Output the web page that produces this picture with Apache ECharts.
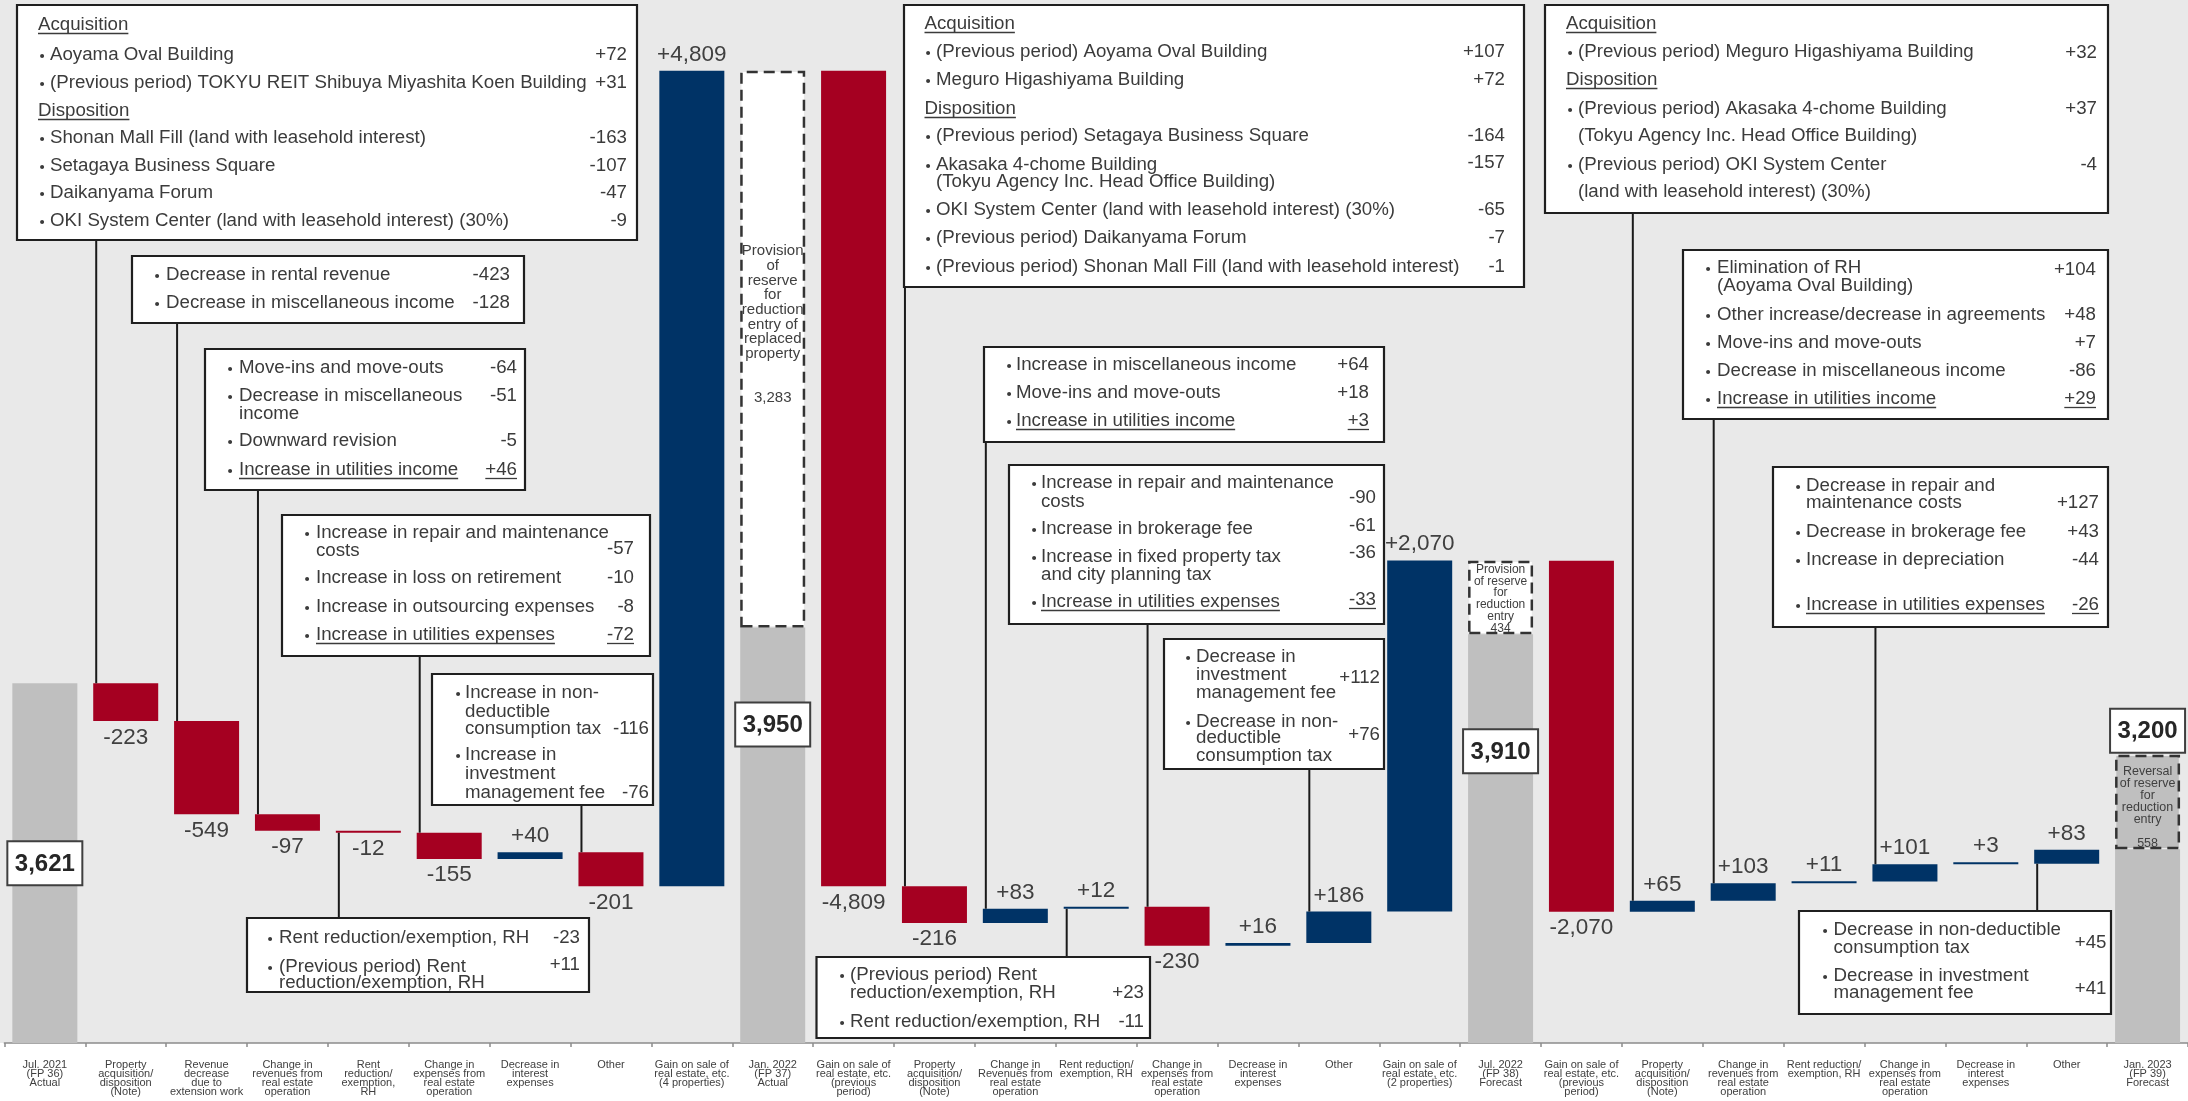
<!DOCTYPE html>
<html>
<head>
<meta charset="utf-8">
<script src="https://cdn.jsdelivr.net/npm/echarts@6/dist/echarts.min.js"></script>
<style>
html, body { margin: 0; padding: 0; background: #ffffff; }
#chart { width: 2188px; height: 1101px; }
</style>
</head>
<body>
<div id="chart"></div>
<script>
// Waterfall steps along the x axis
const categories = [
  'Jul. 2021\n(FP 36)\nActual',
  'Property\nacquisition/\ndisposition\n(Note)',
  'Revenue\ndecrease\ndue to\nextension work',
  'Change in\nrevenues from\nreal estate\noperation',
  'Rent\nreduction/\nexemption,\nRH',
  'Change in\nexpenses from\nreal estate\noperation',
  'Decrease in\ninterest\nexpenses',
  'Other',
  'Gain on sale of\nreal estate, etc.\n(4 properties)',
  'Jan. 2022\n(FP 37)\nActual',
  'Gain on sale of\nreal estate, etc.\n(previous\nperiod)',
  'Property\nacquisition/\ndisposition\n(Note)',
  'Change in\nRevenues from\nreal estate\noperation',
  'Rent reduction/\nexemption, RH',
  'Change in\nexpenses from\nreal estate\noperation',
  'Decrease in\ninterest\nexpenses',
  'Other',
  'Gain on sale of\nreal estate, etc.\n(2 properties)',
  'Jul. 2022\n(FP 38)\nForecast',
  'Gain on sale of\nreal estate, etc.\n(previous\nperiod)',
  'Property\nacquisition/\ndisposition\n(Note)',
  'Change in\nrevenues from\nreal estate\noperation',
  'Rent reduction/\nexemption, RH',
  'Change in\nexpenses from\nreal estate\noperation',
  'Decrease in\ninterest\nexpenses',
  'Other',
  'Jan. 2023\n(FP 39)\nForecast'
];

// Period totals and the signed changes between them
const steps = [3621, -223, -549, -97, -12, -155, 40, -201, 4809,
               3950, -4809, -216, 83, 12, -230, 16, 186, 2070,
               3910, -2070, 65, 103, 11, 101, 3, 83,
               3200];

// Positions of the period totals in the steps list
const totalIndex = [0, 9, 18, 26];

// Reserve for reduction entry: provisions sit above the total, the reversal sits inside it
const reserveIndex = [9, 18, 26];
const reserveValues = [3283, 434, -558];

const FONT = '"Liberation Sans", "Noto Sans CJK JP", sans-serif';
const NAVY = '#003366';
const RED = '#a50021';
const GRAY = '#bfbfbf';
const TEXT = '#3b3b3b';
const BAR_W = 65;

const fmt = v => Math.abs(v).toLocaleString('en-US');
const signed = v => (v > 0 ? '+' : '-') + fmt(v);

// Reserve box styles and the wording shown inside each box
const reserveLook = [
  { fill: '#ffffff', font: 15, lh: 14.7, off: 173,
    words: 'Provision\nof\nreserve\nfor\nreduction\nentry of\nreplaced\nproperty\n\n\n' },
  { fill: '#ffffff', font: 12, lh: 11.8, off: 3,
    words: 'Provision\nof reserve\nfor\nreduction\nentry\n' },
  { fill: GRAY, font: 12.5, lh: 12, off: 11,
    words: 'Reversal\nof reserve\nfor\nreduction\nentry\n\n' }
];

// Build stacked series: invisible base, totals, reserve boxes, increases, decreases
const n = categories.length;
const base = Array(n).fill('-');
const total = Array(n).fill('-');
const reserve = Array(n).fill('-');
const inc = Array(n).fill('-');
const dec = Array(n).fill('-');
const barTop = [], barBottom = [];
let level = 0;
for (let i = 0; i < n; i++) {
  const v = steps[i];
  if (totalIndex.includes(i)) {
    const k = reserveIndex.indexOf(i);
    const r = k >= 0 ? reserveValues[k] : 0;
    total[i] = r < 0 ? v + r : v;
    if (k >= 0) {
      const look = reserveLook[k];
      reserve[i] = {
        value: Math.abs(r),
        itemStyle: { color: look.fill, borderColor: '#333333', borderWidth: 2.5, borderType: [11, 6] },
        label: {
          show: true, position: 'insideTop', distance: 0, offset: [0, look.off],
          fontFamily: FONT, fontSize: look.font, lineHeight: look.lh, color: '#404040', align: 'center',
          formatter: look.words + fmt(r)
        }
      };
    }
    level = r > 0 ? v + r : v;
    barTop[i] = level; barBottom[i] = level;
  } else {
    const next = level + v;
    base[i] = Math.min(level, next);
    if (v > 0) inc[i] = v; else dec[i] = -v;
    barTop[i] = Math.max(level, next);
    barBottom[i] = Math.min(level, next);
    level = next;
  }
}

const common = { type: 'bar', stack: 'w', barWidth: BAR_W, animation: false };
const valueLabel = {
  show: true, distance: 5, fontFamily: FONT, fontSize: 22.5, color: '#404040',
  formatter: p => signed(steps[p.dataIndex])
};

const option = {
  backgroundColor: '#ffffff',
  animation: false,
  grid: { left: 4.4, top: 0, width: 2192.4, height: 1043, containLabel: false },
  xAxis: {
    type: 'category',
    data: categories,
    axisLine: { lineStyle: { color: '#8c8c8c', width: 1.5 } },
    axisTick: { show: true, length: 4, lineStyle: { color: '#8c8c8c', width: 1.5 } },
    axisLabel: { interval: 0, fontFamily: FONT, fontSize: 11, lineHeight: 9, color: '#404040', margin: 17 },
    splitLine: { show: false }
  },
  yAxis: { type: 'value', min: 1500, max: 7650, show: false },
  series: [
    Object.assign({}, common, { name: 'base', data: base, itemStyle: { color: 'transparent' }, silent: true }),
    Object.assign({}, common, { name: 'total', data: total, itemStyle: { color: GRAY } }),
    Object.assign({}, common, { name: 'reserve', data: reserve }),
    Object.assign({}, common, { name: 'increase', data: inc, barMinHeight: 2, itemStyle: { color: NAVY },
      label: Object.assign({ position: 'top' }, valueLabel) }),
    Object.assign({}, common, { name: 'decrease', data: dec, barMinHeight: 2, itemStyle: { color: RED },
      label: Object.assign({ position: 'bottom' }, valueLabel) })
  ]
};

const chart = echarts.init(document.getElementById('chart'), null, { renderer: 'canvas' });
chart.setOption(option);

// Breakdown call-outs: each is tied to one step and holds its text rows
const notes = [
  { cat: 1, box: [17, 5, 620, 235], head: 38, dot: 42, text: 50, val: 627, rows: [
    { y: 25, h: 'Acquisition' },
    { y: 55, b: 'Aoyama Oval Building', v: '+72' },
    { y: 83, b: '(Previous period) TOKYU REIT Shibuya Miyashita Koen Building', v: '+31' },
    { y: 111, h: 'Disposition' },
    { y: 138, b: 'Shonan Mall Fill (land with leasehold interest)', v: '-163' },
    { y: 166, b: 'Setagaya Business Square', v: '-107' },
    { y: 193, b: 'Daikanyama Forum', v: '-47' },
    { y: 221, b: 'OKI System Center (land with leasehold interest) (30%)', v: '-9' } ] },
  { cat: 2, box: [132, 256, 392, 67], dot: 157, text: 166, val: 510, rows: [
    { y: 275, b: 'Decrease in rental revenue', v: '-423' },
    { y: 303, b: 'Decrease in miscellaneous income', v: '-128' } ] },
  { cat: 3, box: [205, 349, 320, 141], dot: 230, text: 239, val: 517, rows: [
    { y: 368, b: 'Move-ins and move-outs', v: '-64' },
    { y: 396, b: 'Decrease in miscellaneous', v: '-51' },
    { y: 414, c: 'income' },
    { y: 441, b: 'Downward revision', v: '-5' },
    { y: 470, b: 'Increase in utilities income', v: '+46', u: 1 } ] },
  { cat: 5, box: [282, 515, 368, 141], dot: 307, text: 316, val: 634, rows: [
    { y: 533, b: 'Increase in repair and maintenance' },
    { y: 551, c: 'costs', v: '-57', vy: 549 },
    { y: 578, b: 'Increase in loss on retirement', v: '-10' },
    { y: 607, b: 'Increase in outsourcing expenses', v: '-8' },
    { y: 635, b: 'Increase in utilities expenses', v: '-72', u: 1 } ] },
  { cat: 7, box: [432, 674, 221, 131], dot: 458, text: 465, val: 649, rows: [
    { y: 693, b: 'Increase in non-' },
    { y: 712, c: 'deductible' },
    { y: 729, c: 'consumption tax', v: '-116' },
    { y: 755, b: 'Increase in' },
    { y: 774, c: 'investment' },
    { y: 793, c: 'management fee', v: '-76' } ] },
  { cat: 4, below: true, box: [247, 918, 342, 74], dot: 270, text: 279, val: 580, rows: [
    { y: 938, b: 'Rent reduction/exemption, RH', v: '-23' },
    { y: 967, b: '(Previous period) Rent', v: '+11', vy: 965 },
    { y: 983, c: 'reduction/exemption, RH' } ] },
  { cat: 11, box: [904, 5, 620, 282], head: 924.5, dot: 928, text: 936, val: 1505, rows: [
    { y: 24, h: 'Acquisition' },
    { y: 52, b: '(Previous period) Aoyama Oval Building', v: '+107' },
    { y: 80, b: 'Meguro Higashiyama Building', v: '+72' },
    { y: 109, h: 'Disposition' },
    { y: 136, b: '(Previous period) Setagaya Business Square', v: '-164' },
    { y: 165, b: 'Akasaka 4-chome Building', v: '-157', vy: 163 },
    { y: 182, c: '(Tokyu Agency Inc. Head Office Building)' },
    { y: 210, b: 'OKI System Center (land with leasehold interest) (30%)', v: '-65' },
    { y: 238, b: '(Previous period) Daikanyama Forum', v: '-7' },
    { y: 267, b: '(Previous period) Shonan Mall Fill (land with leasehold interest)', v: '-1' } ] },
  { cat: 12, box: [984, 347, 400, 95], dot: 1009, text: 1016, val: 1369, rows: [
    { y: 365, b: 'Increase in miscellaneous income', v: '+64' },
    { y: 393, b: 'Move-ins and move-outs', v: '+18' },
    { y: 421, b: 'Increase in utilities income', v: '+3', u: 1 } ] },
  { cat: 14, box: [1009, 465, 375, 159], dot: 1034, text: 1041, val: 1376, rows: [
    { y: 483, b: 'Increase in repair and maintenance' },
    { y: 502, c: 'costs', v: '-90', vy: 498 },
    { y: 529, b: 'Increase in brokerage fee', v: '-61', vy: 526 },
    { y: 557, b: 'Increase in fixed property tax', v: '-36', vy: 553 },
    { y: 575, c: 'and city planning tax' },
    { y: 602, b: 'Increase in utilities expenses', v: '-33', vy: 600, u: 1 } ] },
  { cat: 16, box: [1164, 639, 220, 130], dot: 1188, text: 1196, val: 1380, rows: [
    { y: 657, b: 'Decrease in' },
    { y: 675, c: 'investment' },
    { y: 693, c: 'management fee' },
    { vy: 678, v: '+112' },
    { y: 722, b: 'Decrease in non-' },
    { y: 738, c: 'deductible' },
    { y: 756, c: 'consumption tax' },
    { vy: 735, v: '+76' } ] },
  { cat: 13, below: true, box: [816.5, 957, 333.5, 81], dot: 842, text: 850, val: 1144, rows: [
    { y: 975, b: '(Previous period) Rent' },
    { y: 993, c: 'reduction/exemption, RH', v: '+23' },
    { y: 1022, b: 'Rent reduction/exemption, RH', v: '-11' } ] },
  { cat: 20, box: [1545, 5, 563, 208], head: 1566, dot: 1570, text: 1578, val: 2097, rows: [
    { y: 24, h: 'Acquisition' },
    { y: 52, b: '(Previous period) Meguro Higashiyama Building', v: '+32', vy: 53 },
    { y: 80, h: 'Disposition' },
    { y: 109, b: '(Previous period) Akasaka 4-chome Building', v: '+37' },
    { y: 136, c: '(Tokyu Agency Inc. Head Office Building)' },
    { y: 165, b: '(Previous period) OKI System Center', v: '-4' },
    { y: 192, c: '(land with leasehold interest) (30%)' } ] },
  { cat: 21, box: [1683, 250, 425, 169], dot: 1708, text: 1717, val: 2096, rows: [
    { y: 268, b: 'Elimination of RH', v: '+104', vy: 270 },
    { y: 286, c: '(Aoyama Oval Building)' },
    { y: 315, b: 'Other increase/decrease in agreements', v: '+48' },
    { y: 343, b: 'Move-ins and move-outs', v: '+7' },
    { y: 371, b: 'Decrease in miscellaneous income', v: '-86' },
    { y: 399, b: 'Increase in utilities income', v: '+29', u: 1 } ] },
  { cat: 23, box: [1773, 467, 335, 160], dot: 1798, text: 1806, val: 2099, rows: [
    { y: 486, b: 'Decrease in repair and' },
    { y: 503, c: 'maintenance costs', v: '+127' },
    { y: 532, b: 'Decrease in brokerage fee', v: '+43' },
    { y: 560, b: 'Increase in depreciation', v: '-44' },
    { y: 605, b: 'Increase in utilities expenses', v: '-26', u: 1 } ] },
  { cat: 25, below: true, box: [1799, 911, 312, 103], dot: 1825, text: 1833.5, val: 2106.5, rows: [
    { y: 930, b: 'Decrease in non-deductible' },
    { y: 948, c: 'consumption tax' },
    { vy: 943, v: '+45' },
    { y: 976, b: 'Decrease in investment' },
    { y: 993, c: 'management fee' },
    { vy: 989, v: '+41' } ] }
];

// Vertical position of each period-total tag relative to its column top
const totalTagShift = [180, 97, 117, -24];

const NOTE_SIZE = 18.7;
const measure = document.createElement('canvas').getContext('2d');
measure.font = NOTE_SIZE + 'px "Liberation Sans"';
const widthOf = s => measure.measureText(s).width;

const els = [];
els.push({ type: 'rect', z: -10, silent: true,
  shape: { x: 0, y: 0, width: 2188, height: 1043 }, style: { fill: '#e9e9e9' } });

function text(x, y, s, align) {
  return { type: 'text', z: 60, silent: true,
    style: { x: x, y: y, text: s, font: NOTE_SIZE + 'px ' + FONT, fill: TEXT,
             align: align || 'left', verticalAlign: 'middle' } };
}
function underline(x1, x2, y) {
  return { type: 'line', z: 60, silent: true,
    shape: { x1: x1, y1: y + 8.5, x2: x2, y2: y + 8.5 }, style: { stroke: TEXT, lineWidth: 1.3 } };
}

const pixel = (i, v) => chart.convertToPixel({ gridIndex: 0 }, [i, v]);

notes.forEach(nt => {
  const [bx, by, bw, bh] = nt.box;
  // leader from the box edge to the related bar
  const lx = pixel(nt.cat, 2000)[0] - BAR_W / 2 + 3;
  let y1, y2;
  if (nt.below) { y1 = pixel(nt.cat, barBottom[nt.cat])[1]; y2 = by; }
  else { y1 = by + bh; y2 = pixel(nt.cat, barTop[nt.cat])[1]; }
  els.push({ type: 'line', z: 55, silent: true,
    shape: { x1: lx, y1: y1, x2: lx, y2: y2 }, style: { stroke: '#1a1a1a', lineWidth: 2 } });
  els.push({ type: 'rect', z: 58, silent: true,
    shape: { x: bx, y: by, width: bw, height: bh },
    style: { fill: '#ffffff', stroke: '#1f1f1f', lineWidth: 2.2 } });
  nt.rows.forEach(r => {
    if (r.h) {
      els.push(text(nt.head, r.y, r.h));
      els.push(underline(nt.head, nt.head + widthOf(r.h), r.y));
    }
    if (r.b) {
      els.push(text(nt.dot, r.y + 3, '・', 'center'));
      els.push(text(nt.text, r.y, r.b));
      if (r.u) els.push(underline(nt.text, nt.text + widthOf(r.b), r.y));
    }
    if (r.c) els.push(text(nt.text, r.y, r.c));
    if (r.v) {
      const vy = r.vy !== undefined ? r.vy : r.y;
      els.push(text(nt.val, vy, r.v, 'right'));
      if (r.u) els.push(underline(nt.val - widthOf(r.v), nt.val, vy));
    }
  });
});

// Period-total tags
totalIndex.forEach((i, k) => {
  const p = pixel(i, steps[i]);
  const cx = p[0];
  const cy = p[1] + totalTagShift[k];
  els.push({ type: 'rect', z: 58, silent: true,
    shape: { x: cx - 37.5, y: cy - 22, width: 75, height: 44 },
    style: { fill: '#ffffff', stroke: '#3f3f3f', lineWidth: 2 } });
  els.push({ type: 'text', z: 60, silent: true,
    style: { x: cx, y: cy + 1, text: fmt(steps[i]), font: 'bold 24px ' + FONT, fill: '#262626',
             align: 'center', verticalAlign: 'middle' } });
});

chart.setOption({ graphic: { elements: els } });
</script>
</body>
</html>
